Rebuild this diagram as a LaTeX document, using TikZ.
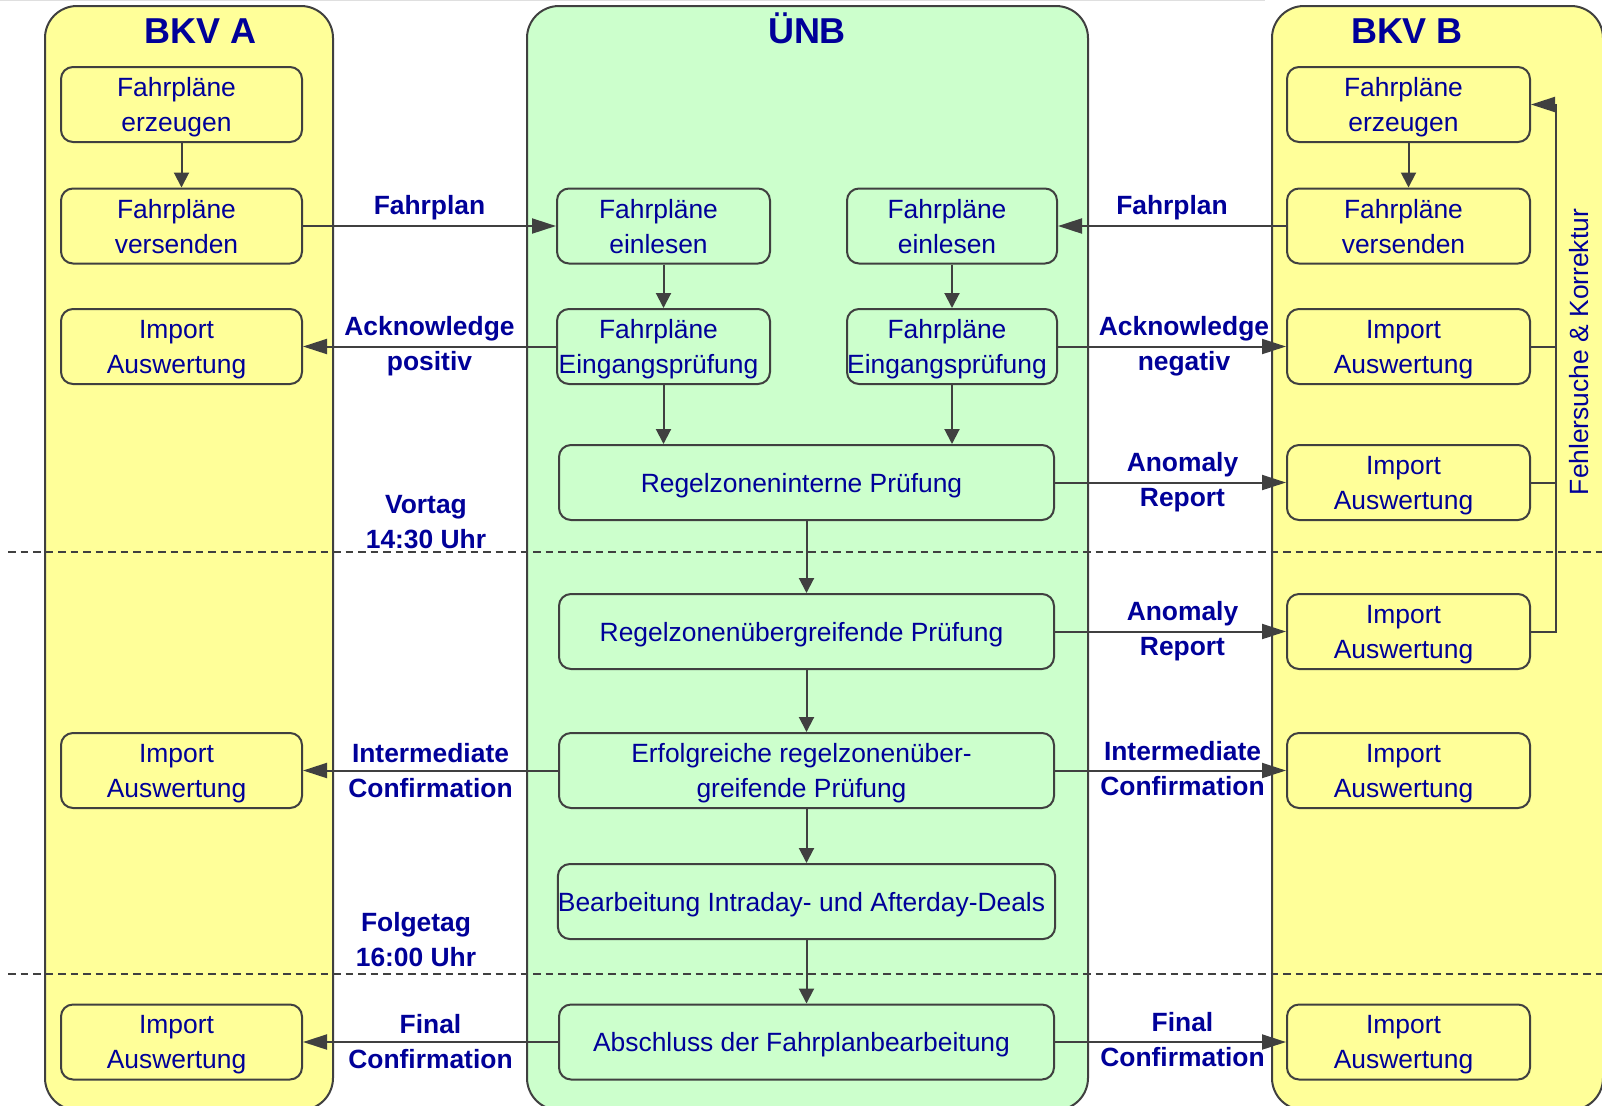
\documentclass[tikz,border=0pt]{standalone}
\usepackage{fontspec}
\setmainfont{Liberation Sans}
\usetikzlibrary{arrows.meta}

\definecolor{laneyellow}{HTML}{FFFF99}
\definecolor{lanegreen}{HTML}{CCFFCC}
\definecolor{ink}{HTML}{000099}
\definecolor{edgegray}{HTML}{404040}

% box captions sit a little left of the box centre
\newcommand{\rpad}{\kern5pt}

\begin{document}
\begin{tikzpicture}[x=0.5pt,y=-0.5pt,
  lane/.style={draw=edgegray, line width=1pt, rounded corners=16pt},
  title/.style={text=ink, font=\bfseries\fontsize{18}{21}\selectfont, inner sep=0pt, anchor=base},
  box/.style={draw=edgegray, line width=1pt, rounded corners=6pt, text=ink,
    align=center, font=\fontsize{13.2}{17.5}\selectfont, inner sep=0pt,
    text depth=0pt, minimum height=37.5pt},
  boxA/.style={box, fill=laneyellow, minimum width=120.5pt},
  boxB/.style={box, fill=laneyellow, minimum width=121.5pt},
  boxL/.style={box, fill=lanegreen, minimum width=106.5pt},
  boxR/.style={box, fill=lanegreen, minimum width=105pt},
  boxW/.style={box, fill=lanegreen, minimum width=247.5pt},
  lbl/.style={text=ink, font=\bfseries\fontsize{13.2}{17.5}\selectfont, align=center, inner sep=0pt},
  plain/.style={draw=edgegray, line width=1pt},
  harr/.style={plain, -{Triangle[length=12pt,width=7.5pt]}},
  varr/.style={plain, -{Triangle[length=7.5pt,width=7.5pt]}},
  sep/.style={draw=edgegray, line width=0.9pt, dash pattern=on 3.75pt off 2.5pt},
]
\useasboundingbox (0,0) rectangle (1602,1105);
\fill[white] (0,0) rectangle (1602,1105);
\draw[gray!25, line width=0.6pt] (0,0.6) -- (1265,0.6);

% swimlanes
\draw[lane, fill=laneyellow] (45,6) rectangle (333,1110);
\draw[lane, fill=lanegreen] (527,6) rectangle (1088,1110);
\draw[lane, fill=laneyellow] (1272,6) rectangle (1603,1110);

\node[title] (tA) at (201,43) {BKV A};
\node[title] (tU) at (807,43) {ÜNB};
\node[title] (tB) at (1407,43) {BKV B};

% day boundaries
\draw[sep] (8,552) -- (1602,552);
\draw[sep] (8,974) -- (1602,974);

% BKV A
\node[boxA] (aErz) at (181.5,104.5) {Fahrpläne\rpad\\erzeugen\rpad};
\node[boxA] (aVer) at (181.5,226) {Fahrpläne\rpad\\versenden\rpad};
\node[boxA] (aAck) at (181.5,346.5) {Import\rpad\\Auswertung\rpad};
\node[boxA] (aInt) at (181.5,770.5) {Import\rpad\\Auswertung\rpad};
\node[boxA] (aFin) at (181.5,1042) {Import\rpad\\Auswertung\rpad};

% BKV B
\node[boxB] (bErz) at (1408.5,104.5) {Fahrpläne\rpad\\erzeugen\rpad};
\node[boxB] (bVer) at (1408.5,226) {Fahrpläne\rpad\\versenden\rpad};
\node[boxB] (bAck) at (1408.5,346.5) {Import\rpad\\Auswertung\rpad};
\node[boxB] (bAn1) at (1408.5,482.5) {Import\rpad\\Auswertung\rpad};
\node[boxB] (bAn2) at (1408.5,631.5) {Import\rpad\\Auswertung\rpad};
\node[boxB] (bInt) at (1408.5,770.5) {Import\rpad\\Auswertung\rpad};
\node[boxB] (bFin) at (1408.5,1042) {Import\rpad\\Auswertung\rpad};

% ÜNB
\node[boxL] (uEinL) at (663.5,226) {Fahrpläne\rpad\\einlesen\rpad};
\node[boxL] (uPrL) at (663.5,346.5) {Fahrpläne\rpad\\Eingangsprüfung\rpad};
\node[boxR] (uEinR) at (952,226) {Fahrpläne\rpad\\einlesen\rpad};
\node[boxR] (uPrR) at (952,346.5) {Fahrpläne\rpad\\Eingangsprüfung\rpad};
\node[boxW] (uRI) at (806.5,482.5) {Regelzoneninterne Prüfung\rpad};
\node[boxW] (uRU) at (806.5,631.5) {Regelzonenübergreifende Prüfung\rpad};
\node[boxW] (uErf) at (806.5,770.5) {Erfolgreiche regelzonenüber-\rpad\\greifende Prüfung\rpad};
\node[boxW] (uBea) at (806.5,901.5) {Bearbeitung Intraday- und Afterday-Deals\rpad};
\node[boxW] (uAbs) at (806.5,1042) {Abschluss der Fahrplanbearbeitung\rpad};

% flow inside the lanes
\draw[varr] (aErz) -- (aVer);
\draw[varr] (bErz) -- (bVer);
\draw[varr] (uEinL) -- (uPrL);
\draw[varr] (uEinR) -- (uPrR);
\draw[varr] (uPrL.south) -- (uPrL.south |- uRI.north);
\draw[varr] (uPrR.south) -- (uPrR.south |- uRI.north);
\draw[varr] (uRI) -- (uRU);
\draw[varr] (uRU) -- (uErf);
\draw[varr] (uErf) -- (uBea);
\draw[varr] (uBea) -- (uAbs);

% messages between the parties
\draw[harr] (aVer) -- (uEinL) node[lbl, midway, yshift=9pt] {Fahrplan};
\draw[harr] (uPrL) -- (aAck) node[lbl, midway] {Acknowledge\\positiv};
\draw[harr] (uErf) -- (aInt) node[lbl, midway] {Intermediate\\Confirmation};
\draw[harr] (uAbs) -- (aFin) node[lbl, midway] {Final\\Confirmation};
\draw[harr] (bVer) -- (uEinR) node[lbl, midway, yshift=9pt] {Fahrplan};
\draw[harr] (uPrR) -- (bAck) node[lbl, midway, xshift=6pt] {Acknowledge\\negativ};
\draw[harr] (uRI) -- (bAn1) node[lbl, midway, xshift=6pt] {Anomaly\\Report};
\draw[harr] (uRU) -- (bAn2) node[lbl, midway, xshift=6pt] {Anomaly\\Report};
\draw[harr] (uErf) -- (bInt) node[lbl, midway, xshift=6pt, yshift=1pt] {Intermediate\\Confirmation};
\draw[harr] (uAbs) -- (bFin) node[lbl, midway, xshift=6pt, yshift=1pt] {Final\\Confirmation};

% deadlines
\node[lbl] (vortag) at (426,522) {Vortag\\14:30 Uhr};
\node[lbl] (folgetag) at (416,940) {Folgetag\\16:00 Uhr};

% error handling loop of BKV B
\coordinate (fk) at (1556,104.5);
\draw[harr] (bAn2.east) -| (fk) -- (bErz.east);
\draw[plain] (bAck.east) -- (bAck.east -| fk);
\draw[plain] (bAn1.east) -- (bAn1.east -| fk);
\node[text=ink, font=\fontsize{13.2}{17.5}\selectfont, rotate=90, inner sep=0pt] (fkl) at (1579,352) {Fehlersuche \& Korrektur};
\end{tikzpicture}
\end{document}
